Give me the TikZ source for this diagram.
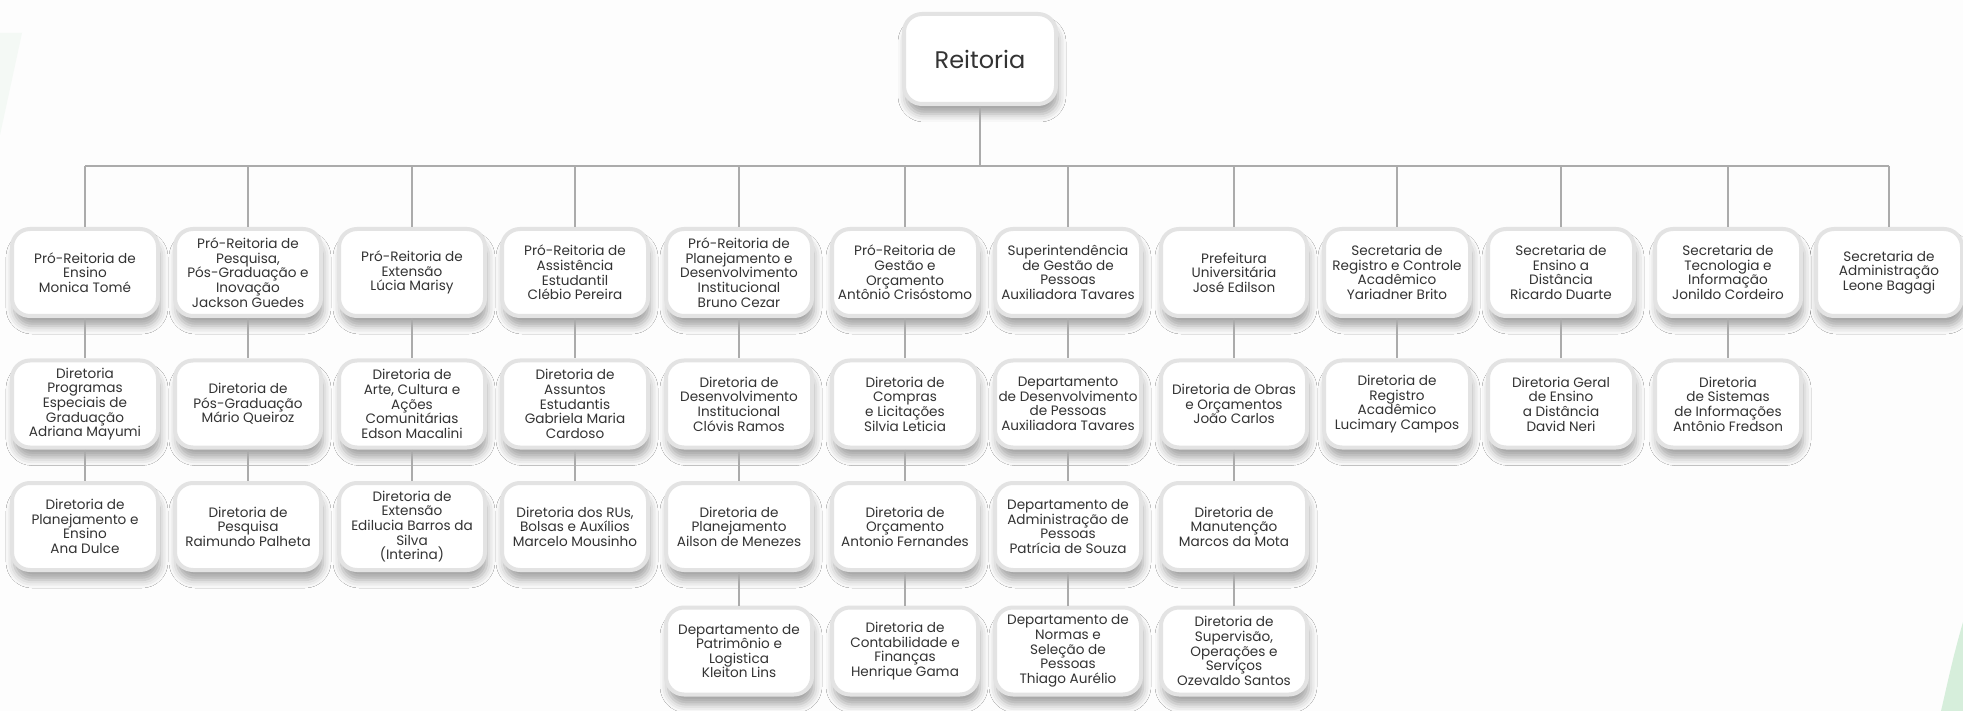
\documentclass[tikz,border=0pt]{standalone}
\usepackage{fontspec}
\setmainfont{Poppins}
\usetikzlibrary{shadows.blur}
\definecolor{bg}{HTML}{FDFDFD}
\definecolor{bord}{HTML}{E3E3E3}
\definecolor{connc}{HTML}{ABABAB}
\definecolor{txt}{HTML}{333333}
\definecolor{grn}{HTML}{D6EEDB}
\definecolor{grnfaint}{HTML}{F4F9F5}
\begin{document}
\begin{tikzpicture}[x=1pt,y=-1pt,
  unitbox/.style={draw=bord, line width=4pt, fill=white, rounded corners=18pt,
    minimum width=146pt, minimum height=87pt, inner sep=0pt, align=center,
    font=\fontsize{13.6}{14.6}\selectfont, text=txt,
    blur shadow={shadow xshift=2pt, shadow yshift=-10pt, shadow blur radius=8pt, shadow opacity=35}},
  topbox/.style={unitbox, minimum width=152pt, minimum height=90pt, font=\fontsize{24}{26}\selectfont},
  conn/.style={draw=connc, line width=2pt}]
\useasboundingbox (0,0) rectangle (1963,711);
\fill[bg] (0,0) rectangle (1963,711);
\fill[grnfaint] (0,33) -- (22,33) -- (0,135) -- cycle;
\fill[grn] (1963,622) .. controls (1952,660) and (1946,690) .. (1941,711) -- (1963,711) -- cycle;

\node[topbox] (reit) at (980,59) {Reitoria};

% row 1
\node[unitbox] (a1) at (85,272.5) {Pró-Reitoria de\\Ensino\\Monica Tomé};
\node[unitbox] (b1) at (248,272.5) {Pró-Reitoria de\\Pesquisa,\\Pós-Graduação e\\Inovação\\Jackson Guedes};
\node[unitbox] (c1) at (412,272.5) {Pró-Reitoria de\\Extensão\\Lúcia Marisy};
\node[unitbox] (d1) at (575,272.5) {Pró-Reitoria de\\Assistência\\Estudantil\\Clébio Pereira};
\node[unitbox] (e1) at (739,272.5) {Pró-Reitoria de\\Planejamento e\\Desenvolvimento\\Institucional\\Bruno Cezar};
\node[unitbox] (f1) at (905,272.5) {Pró-Reitoria de\\Gestão e\\Orçamento\\Antônio Crisóstomo};
\node[unitbox] (g1) at (1068,272.5) {Superintendência\\de Gestão de\\Pessoas\\Auxiliadora Tavares};
\node[unitbox] (h1) at (1234,272.5) {Prefeitura\\Universitária\\José Edilson};
\node[unitbox] (i1) at (1397,272.5) {Secretaria de\\Registro e Controle\\Acadêmico\\Yariadner Brito};
\node[unitbox] (j1) at (1561,272.5) {Secretaria de\\Ensino a\\Distância\\Ricardo Duarte};
\node[unitbox] (k1) at (1728,272.5) {Secretaria de\\Tecnologia e\\Informação\\Jonildo Cordeiro};
\node[unitbox] (l1) at (1889,272.5) {Secretaria de\\Administração\\Leone Bagagi};

% row 2
\node[unitbox] (a2) at (85,404) {Diretoria\\Programas\\Especiais de\\Graduação\\Adriana Mayumi};
\node[unitbox] (b2) at (248,404) {Diretoria de\\Pós-Graduação\\Mário Queiroz};
\node[unitbox] (c2) at (412,404) {Diretoria de\\Arte, Cultura e\\Ações\\Comunitárias\\Edson Macalini};
\node[unitbox] (d2) at (575,404) {Diretoria de\\Assuntos\\Estudantis\\Gabriela Maria\\Cardoso};
\node[unitbox] (e2) at (739,404) {Diretoria de\\Desenvolvimento\\Institucional\\Clóvis Ramos};
\node[unitbox] (f2) at (905,404) {Diretoria de\\Compras\\e Licitações\\Silvia Leticia};
\node[unitbox] (g2) at (1068,404) {Departamento\\de Desenvolvimento\\de Pessoas\\Auxiliadora Tavares};
\node[unitbox] (h2) at (1234,404) {Diretoria de Obras\\e Orçamentos\\João Carlos};
\node[unitbox] (i2) at (1397,404) {Diretoria de\\Registro\\Acadêmico\\Lucimary Campos};
\node[unitbox] (j2) at (1561,404) {Diretoria Geral\\de Ensino\\a Distância\\David Neri};
\node[unitbox] (k2) at (1728,404) {Diretoria\\de Sistemas\\de Informações\\Antônio Fredson};

% row 3
\node[unitbox] (a3) at (85,526.5) {Diretoria de\\Planejamento e\\Ensino\\Ana Dulce};
\node[unitbox] (b3) at (248,526.5) {Diretoria de\\Pesquisa\\Raimundo Palheta};
\node[unitbox] (c3) at (412,526.5) {Diretoria de\\Extensão\\Edilucia Barros da\\Silva\\(Interina)};
\node[unitbox] (d3) at (575,526.5) {Diretoria dos RUs,\\Bolsas e Auxílios\\Marcelo Mousinho};
\node[unitbox] (e3) at (739,526.5) {Diretoria de\\Planejamento\\Ailson de Menezes};
\node[unitbox] (f3) at (905,526.5) {Diretoria de\\Orçamento\\Antonio Fernandes};
\node[unitbox] (g3) at (1068,526.5) {Departamento de\\Administração de\\Pessoas\\Patrícia de Souza};
\node[unitbox] (h3) at (1234,526.5) {Diretoria de\\Manutenção\\Marcos da Mota};

% row 4
\node[unitbox] (e4) at (739,651) {Departamento de\\Patrimônio e\\Logistica\\Kleiton Lins};
\node[unitbox] (f4) at (905,651) {Diretoria de\\Contabilidade e\\Finanças\\Henrique Gama};
\node[unitbox] (g4) at (1068,651) {Departamento de\\Normas e\\Seleção de\\Pessoas\\Thiago Aurélio};
\node[unitbox] (h4) at (1234,651) {Diretoria de\\Supervisão,\\Operações e\\Serviços\\Ozevaldo Santos};

% connectors
\coordinate (barL) at (85,166);
\draw[conn] (reit.south) -- (reit.south |- barL);
\draw[conn] (a1.north |- barL) -- (l1.north |- barL);
\foreach \n in {a1,b1,c1,d1,e1,f1,g1,h1,i1,j1,k1,l1}
  \draw[conn] (\n.north |- barL) -- (\n.north);
\foreach \p/\q in {a1/a2,a2/a3,b1/b2,b2/b3,c1/c2,c2/c3,d1/d2,d2/d3,e1/e2,e2/e3,e3/e4,f1/f2,f2/f3,f3/f4,g1/g2,g2/g3,g3/g4,h1/h2,h2/h3,h3/h4,i1/i2,j1/j2,k1/k2}
  \draw[conn] (\p.south) -- (\q.north);
\end{tikzpicture}
\end{document}
